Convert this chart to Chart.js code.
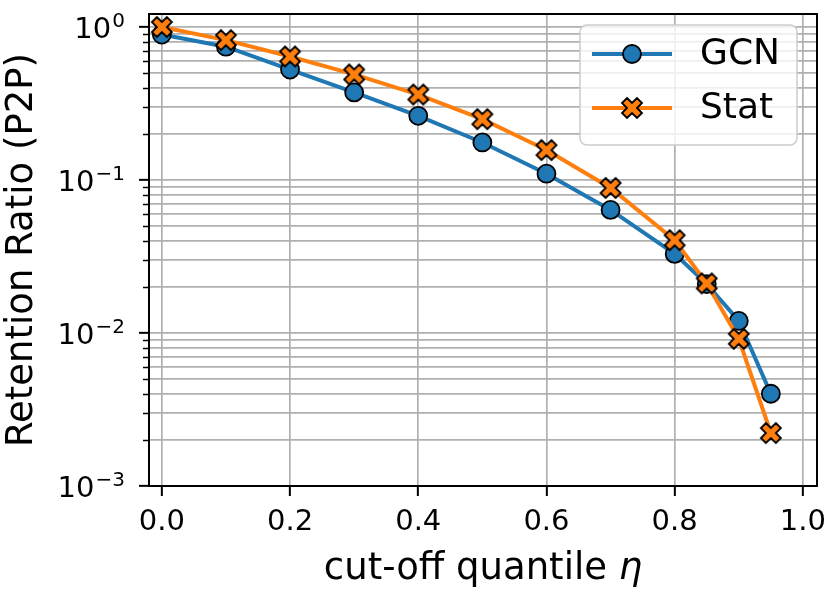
<!DOCTYPE html>
<html>
<head>
<meta charset="utf-8">
<script src="https://cdn.jsdelivr.net/npm/chart.js@4.4.0/dist/chart.umd.min.js"></script>
<style>
  html, body { margin: 0; padding: 0; background: #fff; }
  canvas { display: block; }
</style>
</head>
<body>
<canvas id="myChart" width="832" height="596"></canvas>
<script>
var quantiles = [0, 0.1, 0.2, 0.3, 0.4, 0.5, 0.6, 0.7, 0.8, 0.85, 0.9, 0.95];
var gcnRatio = [0.893, 0.744, 0.527, 0.374, 0.263, 0.176, 0.110, 0.0638, 0.0329, 0.0209, 0.0120, 0.00401];
var statRatio = [1.0, 0.821, 0.642, 0.490, 0.362, 0.250, 0.157, 0.0887, 0.0404, 0.0211, 0.00916, 0.00222];
var xTickValues = [0, 0.2, 0.4, 0.6, 0.8, 1.0];
var yDecades = [0.001, 0.01, 0.1, 1];

var FONT = "'DejaVu Sans', sans-serif";
var BLUE = '#1f77b4';
var ORANGE = '#ff7f0e';

// filled X marker like matplotlib 'X'
function makeXMarker(size, fill) {
    var c = document.createElement('canvas');
    var s = Math.ceil(size + 6);
    c.width = s;
    c.height = s;
    var g = c.getContext('2d');
    var pts = [[-1, -2], [0, -1], [1, -2], [2, -1], [1, 0], [2, 1], [1, 2], [0, 1], [-1, 2], [-2, 1], [-1, 0], [-2, -1]];
    g.translate(s / 2, s / 2);
    g.beginPath();
    pts.forEach(function(p, i) {
        var x = p[0] / 4 * size, y = p[1] / 4 * size;
        if (i) g.lineTo(x, y); else g.moveTo(x, y);
    });
    g.closePath();
    g.fillStyle = fill;
    g.fill();
    g.lineWidth = 1.8;
    g.lineJoin = 'miter';
    g.strokeStyle = '#000';
    g.stroke();
    return c;
}
var xMarker = makeXMarker(20, ORANGE);

function toPoints(ys) {
    return quantiles.map(function(q, i) { return { x: q, y: ys[i] }; });
}

// all 1..9 x 10^k ticks for the log axis
function logTicks() {
    var out = [];
    for (var d = 0; d < yDecades.length; d++) {
        var base = yDecades[d];
        var last = d === yDecades.length - 1 ? 1 : 9;
        for (var m = 1; m <= last; m++) out.push(+(m * base).toPrecision(6));
    }
    return out;
}

function isDecade(v) {
    var l = Math.log10(v);
    return Math.abs(l - Math.round(l)) < 1e-9;
}

function exponentOf(v) {
    var e = Math.round(Math.log10(v));
    return e < 0 ? '\u2212' + (-e) : String(e);
}

var framePlugin = {
    id: 'frame',
    afterDatasetsDraw: function(chart) {
        var a = chart.chartArea, ctx = chart.ctx;
        var y = chart.scales.y;
        ctx.save();
        // minor ticks (shorter)
        ctx.strokeStyle = '#000';
        ctx.lineWidth = 1.5;
        y.ticks.forEach(function(t) {
            if (isDecade(t.value)) return;
            var py = Math.round(y.getPixelForValue(t.value)) + 0.5;
            ctx.beginPath();
            ctx.moveTo(a.left - 6, py);
            ctx.lineTo(a.left, py);
            ctx.stroke();
        });
        ctx.lineWidth = 2;
        ctx.strokeRect(a.left, a.top, a.right - a.left, a.bottom - a.top);
        ctx.restore();
    },
    afterDraw: function(chart) {
        var ctx = chart.ctx, a = chart.chartArea;
        var y = chart.scales.y;
        ctx.save();
        ctx.fillStyle = '#000';

        // y tick labels as 10 with a raised exponent
        y.ticks.forEach(function(t) {
            if (!isDecade(t.value)) return;
            var py = y.getPixelForValue(t.value);
            var ex = exponentOf(t.value);
            ctx.textBaseline = 'alphabetic';
            ctx.font = '20px ' + FONT;
            var ew = ctx.measureText(ex).width;
            var exX = 125 - ew;
            ctx.textAlign = 'left';
            ctx.fillText(ex, exX, py - 0.5);
            ctx.font = '29px ' + FONT;
            ctx.textAlign = 'right';
            ctx.fillText('10', exX - 1, py + 10.5);
        });

        // x axis title with italic eta
        var size = 37;
        var part1 = 'cut-off quantile ';
        var part2 = '\u03b7';
        ctx.font = size + 'px ' + FONT;
        var w1 = ctx.measureText(part1).width;
        ctx.font = 'italic ' + size + 'px ' + FONT;
        var w2 = ctx.measureText(part2).width;
        var x0 = (a.left + a.right) / 2 - (w1 + w2) / 2;
        ctx.textBaseline = 'alphabetic';
        ctx.textAlign = 'left';
        ctx.font = size + 'px ' + FONT;
        ctx.fillText(part1, x0, 579);
        ctx.font = 'italic ' + size + 'px ' + FONT;
        ctx.fillText(part2, x0 + w1, 579);

        // legend
        var bx = 580, by = 25, bw = 217, bh = 120, r = 7;
        ctx.beginPath();
        ctx.moveTo(bx + r, by);
        ctx.arcTo(bx + bw, by, bx + bw, by + bh, r);
        ctx.arcTo(bx + bw, by + bh, bx, by + bh, r);
        ctx.arcTo(bx, by + bh, bx, by, r);
        ctx.arcTo(bx, by, bx + bw, by, r);
        ctx.closePath();
        ctx.fillStyle = 'rgba(255,255,255,0.8)';
        ctx.fill();
        ctx.strokeStyle = '#cccccc';
        ctx.lineWidth = 1.5;
        ctx.stroke();

        var rows = [54, 108];
        chart.data.datasets.forEach(function(ds, i) {
            var ly = rows[i];
            ctx.strokeStyle = ds.borderColor;
            ctx.lineWidth = ds.borderWidth;
            ctx.beginPath();
            ctx.moveTo(592, ly);
            ctx.lineTo(672, ly);
            ctx.stroke();
            if (ds.pointStyle === 'circle') {
                ctx.beginPath();
                ctx.arc(632, ly, ds.pointRadius, 0, Math.PI * 2);
                ctx.fillStyle = ds.pointBackgroundColor;
                ctx.fill();
                ctx.lineWidth = ds.pointBorderWidth;
                ctx.strokeStyle = '#000';
                ctx.stroke();
            } else {
                ctx.drawImage(ds.pointStyle, 632 - ds.pointStyle.width / 2, ly - ds.pointStyle.height / 2);
            }
            ctx.fillStyle = '#000';
            ctx.font = '36px ' + FONT;
            ctx.textAlign = 'left';
            ctx.textBaseline = 'middle';
            ctx.fillText(ds.label, 700, ly + 1);
        });
        ctx.restore();
    }
};

var ctx = document.getElementById('myChart').getContext('2d');
var chart = new Chart(ctx, {
    type: 'line',
    data: {
        datasets: [{
            label: 'GCN',
            data: toPoints(gcnRatio),
            borderColor: BLUE,
            backgroundColor: BLUE,
            borderWidth: 4,
            pointStyle: 'circle',
            pointRadius: 9,
            pointBackgroundColor: BLUE,
            pointBorderColor: '#000',
            pointBorderWidth: 1.8,
            tension: 0,
            order: 1
        }, {
            label: 'Stat',
            data: toPoints(statRatio),
            borderColor: ORANGE,
            backgroundColor: ORANGE,
            borderWidth: 4,
            pointStyle: xMarker,
            pointRadius: 10,
            tension: 0,
            order: 0
        }]
    },
    options: {
        responsive: false,
        animation: false,
        devicePixelRatio: 1,
        layout: { padding: { top: 5, right: 15, left: 0, bottom: 0 } },
        plugins: {
            legend: { display: false },
            tooltip: { enabled: false }
        },
        scales: {
            x: {
                type: 'linear',
                min: -0.02,
                max: 1.022,
                afterBuildTicks: function(scale) {
                    scale.ticks = xTickValues.map(function(v) { return { value: v }; });
                },
                afterFit: function(scale) {
                    scale.height = 110;
                    scale.paddingLeft = 0;
                    scale.paddingRight = 0;
                },
                ticks: {
                    autoSkip: false,
                    maxRotation: 0,
                    padding: 9,
                    color: '#000',
                    font: { family: FONT, size: 29 },
                    callback: function(v) { return Number(v).toFixed(1); }
                },
                grid: {
                    color: '#b0b0b0',
                    lineWidth: 1.7,
                    tickLength: 10,
                    tickColor: '#000',
                    tickWidth: 2
                },
                border: { display: true, color: '#000', width: 2 }
            },
            y: {
                type: 'logarithmic',
                min: 0.001,
                max: 1.217,
                afterBuildTicks: function(scale) {
                    scale.ticks = logTicks().map(function(v) { return { value: v, major: isDecade(v) }; });
                },
                afterFit: function(scale) {
                    scale.width = 149;
                    scale.paddingTop = 0;
                    scale.paddingBottom = 0;
                },
                ticks: {
                    autoSkip: false,
                    padding: 12,
                    font: { family: FONT, size: 20 },
                    callback: function() { return ''; }
                },
                grid: {
                    color: '#b0b0b0',
                    lineWidth: 1.7,
                    tickLength: 10,
                    tickColor: function(c) { return c.tick && isDecade(c.tick.value) ? '#000' : 'rgba(0,0,0,0)'; },
                    tickWidth: 2
                },
                border: { display: true, color: '#000', width: 2 },
                title: {
                    display: true,
                    text: 'Retention Ratio (P2P)',
                    color: '#000',
                    font: { family: FONT, size: 37 },
                    padding: { top: 0, bottom: 0 }
                }
            }
        }
    },
    plugins: [framePlugin]
});
</script>
</body>
</html>
